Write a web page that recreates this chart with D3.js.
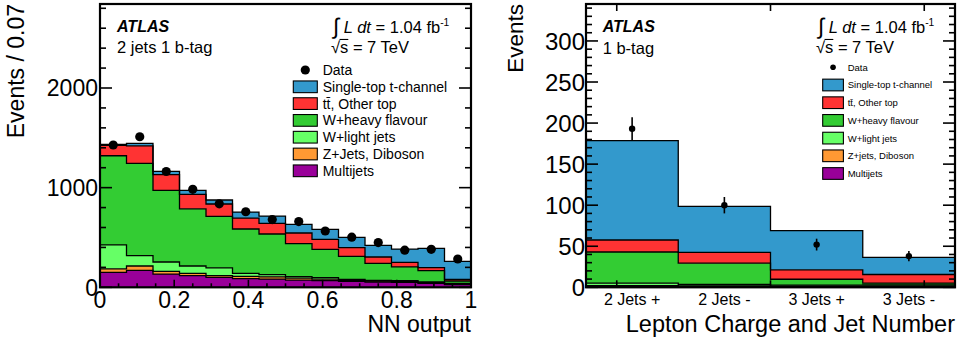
<!DOCTYPE html>
<html><head><meta charset="utf-8">
<script src="https://cdn.jsdelivr.net/npm/d3@7"></script>
<style>
body{margin:0;background:#fff}
svg{display:block}
text{font-family:"Liberation Sans",Arial,Helvetica,sans-serif;fill:#000}
</style>
</head><body>
<svg id="c" width="962" height="344"></svg>
<script>
// ---------------- DATA ----------------
// Left panel: NN output, 2 jets 1 b-tag (14 bins from 0 to 1)
const nnBinCount = 14;
const nnMultijets = [150,170,133,117,100,87,83,73,67,60,53,50,40,27];
const nnZjets     = [35,44,27,23,17,23,21,19,15,10,9,8,7,6];
const nnWlight    = [240,103,94,74,77,30,23,15,15,10,8,9,6,7];
const nnWheavy    = [895,927,719,574,518,445,408,331,284,231,171,137,114,23];
const nnTtbar     = [105,176,157,145,124,110,107,107,100,87,63,47,30,17];
const nnSingleTop = [8,24,33,40,40,60,73,87,101,104,117,133,194,181];
const nnData      = [1428,1511,1162,983,838,758,680,660,565,503,449,373,381,284];
const nnYTicks = [0,1000,2000];
const nnYMinor = [200,400,600,800,1200,1400,1600,1800,2200,2400,2600,2800];
const nnXTicks = [0,0.2,0.4,0.6,0.8,1];
const nnXTickLabels = ["0","0.2","0.4","0.6","0.8","1"];
const nnXMinor = [0.05,0.1,0.15,0.25,0.3,0.35,0.45,0.5,0.55,0.65,0.7,0.75,0.85,0.9,0.95];

// Right panel: lepton charge and jet number, 1 b-tag
const chCategories = ["2 Jets +","2 Jets -","3 Jets +","3 Jets -"];
const chMultijets = [1.0,0.8,0.8,0.8];
const chZjets     = [1.0,0.8,0.6,0.6];
const chWlight    = [3.0,1.8,1.2,1.4];
const chWheavy    = [38,26,7.2,2.4];
const chTtbar     = [14.6,13.2,11.5,10.4];
const chSingleTop = [121,56,47.7,20.9];
const chData      = [193,100,52,38];
const chDataErr   = [14,10,7.2,6.2];
const chYTicks = [0,50,100,150,200,250,300];
const chYMinor = [10,20,30,40,60,70,80,90,110,120,130,140,160,170,180,190,210,220,230,240,260,270,280,290,310,320,330,340];
const chXTicks = [1/3,2,11/3];

const seriesKeys = ["multijets","zjets","wlight","wheavy","ttbar","stop"];
const colors = {stop:"#3399cc",ttbar:"#ff3333",wheavy:"#33cc33",wlight:"#66ff66",zjets:"#ff9933",multijets:"#990099"};

// ---------------- DRAW ----------------
const svg = d3.select("#c");

function rows(arrs){
  return arrs[0].map((_,i)=>({multijets:arrs[0][i],zjets:arrs[1][i],wlight:arrs[2][i],wheavy:arrs[3][i],ttbar:arrs[4][i],stop:arrs[5][i]}));
}

function drawStack(g, table, edges, x, y){
  const layers = d3.stack().keys(seriesKeys)(table);
  const n = table.length;
  layers.forEach(L=>{
    let p = d3.path();
    p.moveTo(x(edges[0]), y(L[0][1]));
    for(let i=0;i<n;i++){ p.lineTo(x(edges[i]), y(L[i][1])); p.lineTo(x(edges[i+1]), y(L[i][1])); }
    for(let i=n-1;i>=0;i--){ p.lineTo(x(edges[i+1]), y(L[i][0])); p.lineTo(x(edges[i]), y(L[i][0])); }
    p.closePath();
    g.append("path").attr("d",p.toString()).attr("fill",colors[L.key]).attr("stroke","none");
  });
  layers.forEach(L=>{
    let p = d3.path();
    p.moveTo(x(edges[0]), y(0));
    for(let i=0;i<n;i++){ p.lineTo(x(edges[i]), y(L[i][1])); p.lineTo(x(edges[i+1]), y(L[i][1])); }
    p.lineTo(x(edges[n]), y(0));
    g.append("path").attr("d",p.toString()).attr("fill","none").attr("stroke","#000").attr("stroke-width",1.3);
  });
}

function frameAndTicks(g, x, y, o){
  const [x0,x1] = x.range(); const [y1,y0] = y.range();
  const T = g.append("g").attr("stroke","#000");
  o.yMajor.forEach(v=>{ T.append("line").attr("x1",x0).attr("x2",x0+o.yMajLen).attr("y1",y(v)).attr("y2",y(v)).attr("stroke-width",1.6);
                         T.append("line").attr("x1",x1).attr("x2",x1-o.yMajLen).attr("y1",y(v)).attr("y2",y(v)).attr("stroke-width",1.6);});
  o.yMinor.forEach(v=>{ T.append("line").attr("x1",x0).attr("x2",x0+o.yMinLen).attr("y1",y(v)).attr("y2",y(v)).attr("stroke-width",1.6);
                         T.append("line").attr("x1",x1).attr("x2",x1-o.yMinLen).attr("y1",y(v)).attr("y2",y(v)).attr("stroke-width",1.6);});
  o.xMajor.forEach(v=>{ T.append("line").attr("x1",x(v)).attr("x2",x(v)).attr("y1",y1).attr("y2",y1-o.xMajLen).attr("stroke-width",1.6);
                         if(o.topTicks) T.append("line").attr("x1",x(v)).attr("x2",x(v)).attr("y1",y0).attr("y2",y0+o.xMajLen).attr("stroke-width",1.6);});
  (o.xMinor||[]).forEach(v=>{ T.append("line").attr("x1",x(v)).attr("x2",x(v)).attr("y1",y1).attr("y2",y1-o.xMinLen).attr("stroke-width",1.6);});
  g.append("rect").attr("x",x0).attr("y",y0).attr("width",x1-x0).attr("height",y1-y0)
    .attr("fill","none").attr("stroke","#000").attr("stroke-width",2.2);
}

function lumiText(g, xs, base, fs){
  const t = g.append("text").attr("x",xs).attr("y",base).attr("font-size",fs);
  t.append("tspan").text("\u222B").attr("font-size",fs*1.35).attr("dy",1);
  t.append("tspan").text(" L dt").attr("font-style","italic").attr("dy",-1);
  t.append("tspan").text(" = 1.04 fb");
  t.append("tspan").text("-1").attr("font-size",fs*0.62).attr("dy",-fs*0.45);
  const s = g.append("text").attr("x",xs-2).attr("y",base+20).attr("font-size",fs).text("\u221As = 7 TeV");
  const n = s.node();
  const a = n.getStartPositionOfChar(1).x, b = n.getEndPositionOfChar(1).x;
  g.append("line").attr("x1",a-0.5).attr("x2",b).attr("y1",base+20-fs*0.82).attr("y2",base+20-fs*0.82).attr("stroke","#000").attr("stroke-width",1.1);
}

function legend(g, o){
  const items = [["Data",null]].concat(o.items);
  items.forEach((it,i)=>{
    const cy = o.y0 + i*o.step;
    if(it[1]===null){
      g.append("circle").attr("cx",o.bx+o.bw/2).attr("cy",cy).attr("r",o.mr).attr("fill","#000");
    } else {
      g.append("rect").attr("x",o.bx).attr("y",cy-o.bh/2).attr("width",o.bw).attr("height",o.bh)
        .attr("fill",colors[it[1]]).attr("stroke","#000").attr("stroke-width",1.1);
    }
    const t = g.append("text").attr("x",o.tx).attr("y",cy).attr("dy","0.36em").attr("font-size",o.fs);
    if(it[0]==="TT"){
      t.append("tspan").text("tt\u0304, Other top");
    } else t.text(it[0]);
  });
}

// ---- Left panel ----
(function(){
  const g = svg.append("g");
  const x = d3.scaleLinear().domain([0,1]).range([100,471]);
  const y = d3.scaleLinear().domain([0,2843]).range([287.3,4]);
  const edges = d3.range(nnBinCount+1).map(i=>i/nnBinCount);
  drawStack(g, rows([nnMultijets,nnZjets,nnWlight,nnWheavy,nnTtbar,nnSingleTop]), edges, x, y);
  frameAndTicks(g, x, y, {yMajor:nnYTicks,yMinor:nnYMinor,yMajLen:12,yMinLen:6,xMajor:nnXTicks,xMinor:nnXMinor,xMajLen:7.5,xMinLen:4,topTicks:false});
  nnData.forEach((v,i)=>{
    g.append("circle").attr("cx",x((edges[i]+edges[i+1])/2)).attr("cy",y(v)).attr("r",4.6).attr("fill","#000");
  });
  nnYTicks.forEach(v=>g.append("text").attr("x",98).attr("y",y(v)).attr("dy","0.36em").attr("text-anchor","end").attr("font-size",23).text(String(v)));
  nnXTicks.forEach((v,i)=>g.append("text").attr("x",x(v)).attr("y",308).attr("text-anchor","middle").attr("font-size",23).text(nnXTickLabels[i]));
  g.append("text").attr("transform","translate(24,4) rotate(-90)").attr("text-anchor","end").attr("font-size",23).text("Events / 0.07");
  g.append("text").attr("x",471).attr("y",332).attr("text-anchor","end").attr("font-size",23).text("NN output");
  g.append("text").attr("x",117).attr("y",32).attr("font-size",16).attr("font-weight","bold").attr("font-style","italic").text("ATLAS");
  g.append("text").attr("x",117).attr("y",53).attr("font-size",16.5).text("2 jets 1 b-tag");
  lumiText(g, 333, 33, 16.5);
  legend(g, {bx:293.3,bw:24,bh:11.7,tx:322.7,y0:70,step:16.8,fs:14,mr:4.6,
    items:[["Single-top t-channel","stop"],["TT","ttbar"],["W+heavy flavour","wheavy"],["W+light jets","wlight"],["Z+Jets, Diboson","zjets"],["Multijets","multijets"]]});
})();

// ---- Right panel ----
(function(){
  const g = svg.append("g");
  const x = d3.scaleLinear().domain([0,4]).range([586,955]);
  const y = d3.scaleLinear().domain([0,345]).range([287.3,4]);
  const edges = [0,1,2,3,4];
  drawStack(g, rows([chMultijets,chZjets,chWlight,chWheavy,chTtbar,chSingleTop]), edges, x, y);
  frameAndTicks(g, x, y, {yMajor:chYTicks,yMinor:chYMinor,yMajLen:12,yMinLen:6,xMajor:chXTicks,xMajLen:7,topTicks:true});
  chData.forEach((v,i)=>{
    const cx = x(i+0.5);
    g.append("line").attr("x1",cx).attr("x2",cx).attr("y1",y(v-chDataErr[i])).attr("y2",y(v+chDataErr[i])).attr("stroke","#000").attr("stroke-width",1.6);
    g.append("circle").attr("cx",cx).attr("cy",y(v)).attr("r",3.2).attr("fill","#000");
  });
  chYTicks.forEach(v=>g.append("text").attr("x",585).attr("y",y(v)).attr("dy","0.36em").attr("text-anchor","end").attr("font-size",24).text(String(v)));
  chCategories.forEach((c,i)=>g.append("text").attr("x",x(i+0.5)).attr("y",305).attr("text-anchor","middle").attr("font-size",16).text(c));
  g.append("text").attr("transform","translate(523,4) rotate(-90)").attr("text-anchor","end").attr("font-size",22.5).text("Events");
  g.append("text").attr("x",955).attr("y",332).attr("text-anchor","end").attr("font-size",23.5).text("Lepton Charge and Jet Number");
  g.append("text").attr("x",602.7).attr("y",31.7).attr("font-size",16).attr("font-weight","bold").attr("font-style","italic").text("ATLAS");
  g.append("text").attr("x",602.7).attr("y",54).attr("font-size",16.5).text("1 b-tag");
  lumiText(g, 818, 33, 16.5);
  legend(g, {bx:822.7,bw:20.7,bh:11.7,tx:847.7,y0:67.3,step:17.7,fs:9.5,mr:2.8,
    items:[["Single-top t-channel","stop"],["TT","ttbar"],["W+heavy flavour","wheavy"],["W+light jets","wlight"],["Z+jets, Diboson","zjets"],["Multijets","multijets"]]});
})();
</script>
</body></html>
